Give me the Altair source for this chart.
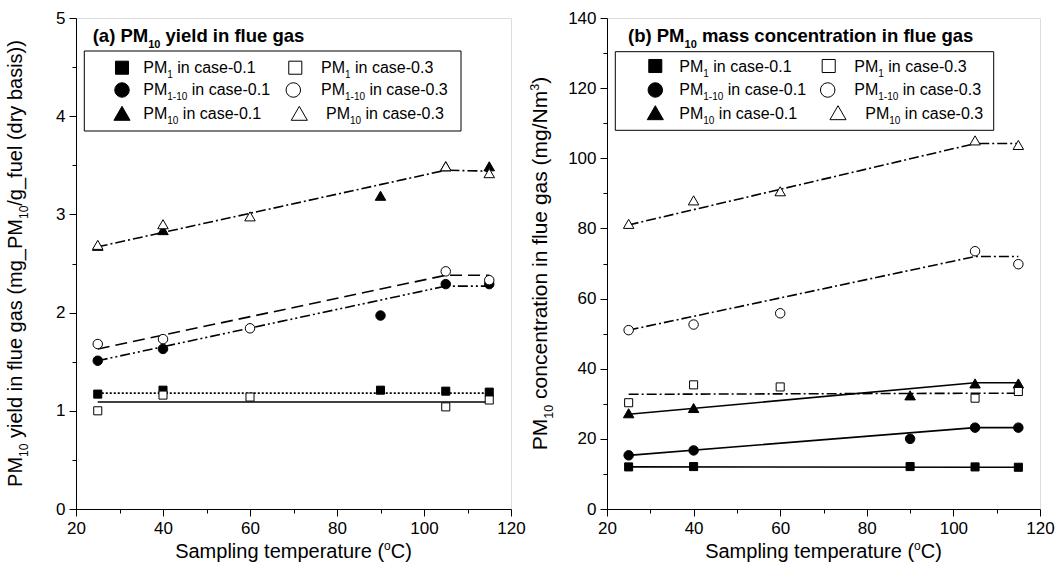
import altair as alt
import pandas as pd

FONT = "Liberation Sans"

# ---------------- data ----------------
temps_case01 = [25, 40, 90, 105, 115]
temps_case03 = [25, 40, 60, 105, 115]
fit_temps = [25, 105, 115]

# (a) PM yield in flue gas (mg/g fuel)
a_pm1_c01 = [1.17, 1.21, 1.21, 1.20, 1.19]
a_pm1_c03 = [1.00, 1.16, 1.14, 1.04, 1.11]
a_pm110_c01 = [1.51, 1.63, 1.97, 2.29, 2.29]
a_pm110_c03 = [1.68, 1.73, 1.84, 2.42, 2.33]
a_pm10_c01 = [2.68, 2.84, 3.19, 3.49, 3.49]
a_pm10_c03 = [2.69, 2.90, 2.98, 3.49, 3.42]

# (a) fitted lines
a_fit_pm1_c01 = [1.18, 1.18, 1.18]
a_fit_pm1_c03 = [1.09, 1.09, 1.09]
a_fit_pm110_c01 = [1.51, 2.27, 2.27]
a_fit_pm110_c03 = [1.63, 2.38, 2.38]
a_fit_pm10 = [2.67, 3.45, 3.44]

# (b) PM mass concentration in flue gas (mg/Nm3)
b_pm1_c01 = [12.0, 12.1, 12.1, 12.0, 11.9]
b_pm1_c03 = [30.3, 35.4, 34.8, 31.6, 33.5]
b_pm110_c01 = [15.3, 16.7, 20.0, 23.2, 23.2]
b_pm110_c03 = [51.0, 52.6, 55.8, 73.5, 69.8]
b_pm10_c01 = [27.3, 28.8, 32.4, 35.8, 35.8]
b_pm10_c03 = [81.3, 88.0, 90.6, 105.1, 103.8]

# (b) fitted lines
b_fit_pm1_c01 = [12.0, 11.9, 11.9]
b_fit_pm1_c03 = [32.7, 33.0, 33.0]
b_fit_pm110_c01 = [15.3, 23.2, 23.2]
b_fit_pm10_c01 = [27.0, 36.0, 36.0]
b_fit_pm110_c03 = [51.0, 72.0, 72.0]
b_fit_pm10_c03 = [81.0, 104.2, 104.2]

x_ticks = [20, 30, 40, 50, 60, 70, 80, 90, 100, 110, 120]
a_y_ticks = [0, 0.5, 1, 1.5, 2, 2.5, 3, 3.5, 4, 4.5, 5]
b_y_ticks = [0, 10, 20, 30, 40, 50, 60, 70, 80, 90, 100, 110, 120, 130, 140]

legend_case01 = [("PM", "1", " in case-0.1"), ("PM", "1-10", " in case-0.1"), ("PM", "10", " in case-0.1")]
legend_case03 = [("PM", "1", " in case-0.3"), ("PM", "1-10", " in case-0.3"), ("PM", "10", " in case-0.3")]
shapes = ["square", "circle", "triangle-up"]

W_A, W_B, H = 435, 433, 491

# --------------- text metrics (Arial / Liberation Sans) ---------------
REG = {' ': 278, '(': 333, ')': 333, '-': 333, '.': 278, '/': 278, '_': 556,
       'A': 667, 'C': 722, 'M': 833, 'N': 722, 'P': 667, 'S': 667,
       'a': 556, 'b': 556, 'c': 500, 'd': 556, 'e': 556, 'f': 278, 'g': 556, 'h': 556,
       'i': 222, 'l': 222, 'm': 833, 'n': 556, 'o': 556, 'p': 556, 'r': 333, 's': 500,
       't': 278, 'u': 556, 'y': 500, 'x': 500}
BOLD = {' ': 278, '(': 333, ')': 333, '-': 333, 'M': 833, 'P': 667,
        'a': 556, 'b': 611, 'c': 556, 'd': 611, 'e': 556, 'f': 333, 'g': 611, 'i': 278,
        'l': 278, 'm': 889, 'n': 611, 'o': 611, 'r': 389, 's': 556, 't': 333, 'u': 611, 'y': 556}


def seg_w(s, fs, bold=False):
    tbl = BOLD if bold else REG
    return sum(tbl.get(c, 556) for c in s) * fs / 1000.0


def rich(segments, x0, y0, vertical=False, center=False, bold=False):
    total = sum(seg_w(t, fs, bold) for t, fs, sh in segments)
    pos = -total / 2 if center else 0.0
    rows = []
    for t, fs, sh in segments:
        lead = len(t) - len(t.lstrip(' '))
        pos += lead * 0.278 * fs
        body = t.lstrip(' ')
        if vertical:
            rows.append(dict(t=body, fs=fs, px=x0 + sh, py=y0 - pos))
        else:
            rows.append(dict(t=body, fs=fs, px=x0 + pos, py=y0 + sh))
        pos += seg_w(body, fs, bold)
    return rows


def text_layer(rows, bold=False, angle=0):
    df = pd.DataFrame(rows)
    kw = dict(align="left", baseline="alphabetic", font=FONT,
              fontWeight="bold" if bold else "normal", color="black")
    if angle:
        kw["angle"] = angle
    return alt.Chart(df).mark_text(**kw).encode(
        x=alt.X("px:Q", scale=None, axis=None),
        y=alt.Y("py:Q", scale=None, axis=None),
        text="t:N",
        size=alt.Size("fs:Q", scale=None, legend=None),
    )


def axis_common(values, major_test):
    return dict(values=values, grid=False, title=None,
                labelExpr=f"{major_test} ? format(datum.value, 'd') : ''",
                tickSize={"condition": {"test": major_test, "value": 7}, "value": 4},
                labelFont=FONT, labelFontSize=17, labelColor="black",
                domainColor="black", tickColor="black", domainWidth=1, tickWidth=1,
                labelPadding=4, labelFlush=False)


def panel(width, ymax, y_ticks, y_major, series, fits, title_rows, legend_pos, ytitle_rows):
    xs = alt.Scale(domain=[20, 120], nice=False, zero=False)
    ys = alt.Scale(domain=[0, ymax], nice=False)
    x_ax = alt.Axis(**axis_common(x_ticks, "datum.value % 20 === 0"))
    y_ax = alt.Axis(**axis_common(y_ticks, y_major))

    layers = []
    # fitted lines
    for vals, dash in fits:
        df = pd.DataFrame({"T": fit_temps, "v": vals})
        kw = dict(color="black", strokeWidth=1.6)
        if dash:
            kw["strokeDash"] = dash
        layers.append(alt.Chart(df).mark_line(**kw).encode(
            x=alt.X("T:Q", scale=xs, axis=x_ax),
            y=alt.Y("v:Q", scale=ys, axis=y_ax)))
    # points
    sizes = {"square": 65, "circle": 90, "triangle-up": 110}
    rows_f, rows_o = [], []
    for temps, vals, shp, filled in series:
        for t, v in zip(temps, vals):
            (rows_f if filled else rows_o).append(dict(T=t, v=v, shp=shp, sz=sizes[shp]))
    for rows, filled in ((rows_f, True), (rows_o, False)):
        df = pd.DataFrame(rows)
        mk = dict(filled=True, opacity=1, stroke="black", strokeWidth=1,
                  fill="black" if filled else "white")
        layers.append(alt.Chart(df).mark_point(**mk).encode(
            x=alt.X("T:Q", scale=xs, axis=x_ax),
            y=alt.Y("v:Q", scale=ys, axis=y_ax),
            shape=alt.Shape("shp:N", scale=None, legend=None),
            size=alt.Size("sz:Q", scale=None, legend=None)))

    # legend box
    bx0, by0, bx1, by1 = legend_pos["box"]
    layers.append(alt.Chart(pd.DataFrame({"a": [0]})).mark_rect(
        fill=None, stroke="black", strokeWidth=1).encode(
        x=alt.value(bx0), x2=alt.value(bx1), y=alt.value(by0), y2=alt.value(by1)))
    # legend markers
    lsz = {"square": 170, "circle": 210, "triangle-up": 260}
    lf, lo = [], []
    for i, shp in enumerate(shapes):
        lf.append(dict(px=legend_pos["m1"][i], py=legend_pos["my"][i], shp=shp, sz=lsz[shp]))
        lo.append(dict(px=legend_pos["m2"][i], py=legend_pos["my"][i], shp=shp, sz=lsz[shp]))
    for rows, filled in ((lf, True), (lo, False)):
        layers.append(alt.Chart(pd.DataFrame(rows)).mark_point(
            filled=True, opacity=1, stroke="black", strokeWidth=1,
            fill="black" if filled else "white").encode(
            x=alt.X("px:Q", scale=None, axis=None),
            y=alt.Y("py:Q", scale=None, axis=None),
            shape=alt.Shape("shp:N", scale=None, legend=None),
            size=alt.Size("sz:Q", scale=None, legend=None)))
    # legend text
    trows = []
    for i in range(3):
        for lab, xx in ((legend_case01[i], legend_pos["t1"][i]), (legend_case03[i], legend_pos["t2"][i])):
            segs = [(lab[0], 16, 0), (lab[1], 10, 5), (lab[2], 16, 0)]
            trows += rich(segs, xx, legend_pos["ty"][i])
    layers.append(text_layer(trows))
    # panel title
    layers.append(text_layer(title_rows, bold=True))
    # axis titles
    xt = rich([("Sampling temperature (", 20, 0), ("o", 12, -8), ("C)", 20, 0)],
              width / 2, 540, center=True)
    layers.append(text_layer(xt))
    layers.append(text_layer(ytitle_rows, angle=270))

    return alt.layer(*layers).properties(width=width, height=H)


left = panel(
    W_A, 5, a_y_ticks, "datum.value % 1 === 0",
    [(temps_case01, a_pm1_c01, "square", True), (temps_case01, a_pm110_c01, "circle", True),
     (temps_case01, a_pm10_c01, "triangle-up", True),
     (temps_case03, a_pm1_c03, "square", False), (temps_case03, a_pm110_c03, "circle", False),
     (temps_case03, a_pm10_c03, "triangle-up", False)],
    [(a_fit_pm1_c01, [2, 2]), (a_fit_pm1_c03, None), (a_fit_pm110_c03, [12, 6]),
     (a_fit_pm110_c01, [10, 3, 2, 3, 2, 3]), (a_fit_pm10, [10, 3, 2, 3])],
    rich([("(a) PM", 18.5, 0), ("10", 11, 6.5), (" yield in flue gas", 18.5, 0)], 16.7, 23.7, bold=True),
    dict(box=(8.3, 33, 385, 113), m1=[46, 46, 46], m2=[219.3, 217.3, 223.3], my=[49.7, 72, 95.3],
         t1=[67.3, 67.3, 67.3], t2=[245, 245, 250], ty=[54.7, 77.3, 101.3]),
    rich([("PM", 20, 0), ("10", 12, 6), (" yield in flue gas (mg_PM", 20, 0), ("10", 12, 6),
          ("/g_fuel (dry basis))", 20, 0)], -54, H / 2, vertical=True, center=True),
)

right = panel(
    W_B, 140, b_y_ticks, "datum.value % 20 === 0",
    [(temps_case01, b_pm1_c01, "square", True), (temps_case01, b_pm110_c01, "circle", True),
     (temps_case01, b_pm10_c01, "triangle-up", True),
     (temps_case03, b_pm1_c03, "square", False), (temps_case03, b_pm110_c03, "circle", False),
     (temps_case03, b_pm10_c03, "triangle-up", False)],
    [(b_fit_pm1_c01, None), (b_fit_pm110_c01, None), (b_fit_pm10_c01, None),
     (b_fit_pm1_c03, [10, 3, 2, 3]), (b_fit_pm110_c03, [10, 3, 2, 3]), (b_fit_pm10_c03, [10, 3, 2, 3])],
    rich([("(b) PM", 18.5, 0), ("10", 11, 6.5), (" mass concentration in flue gas", 18.5, 0)], 21, 23.7, bold=True),
    dict(box=(8.3, 33.7, 386.7, 112.3), m1=[48.3, 48.3, 48.3], m2=[221.7, 220.7, 231], my=[48, 72, 94.7],
         t1=[72.3, 72.3, 72.3], t2=[247.3, 247.3, 258.3], ty=[54, 77.3, 101.3]),
    rich([("PM", 21, 0), ("10", 12.5, 6), (" concentration in flue gas (mg/Nm", 21, 0), ("3", 12.5, -8),
          (")", 21, 0)], -60, H / 2, vertical=True, center=True),
)

chart = alt.hconcat(left, right, spacing=2).properties(
    padding={"left": 5, "top": 8, "right": 0, "bottom": 0}
).configure_view(stroke="black", strokeWidth=1).configure(background="white")

chart.save("out.html", embed_options={"renderer": "svg", "actions": False})
